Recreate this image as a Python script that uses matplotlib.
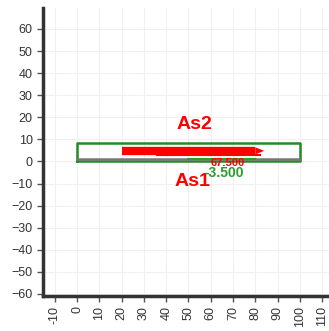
import matplotlib
matplotlib.use("Agg")
import matplotlib.pyplot as plt

# Data
x_ticks = list(range(-10, 111, 10))
y_ticks = list(range(-60, 61, 10))
section_x = [0, 100]          # section rectangle x extent
section_y = [0, 8.5]          # section rectangle y extent
bar_as2_x = [20, 80]          # main reinforcement bar (thick red)
bar_as2_y = 4.8
bar_as2_tip = 84
thin_red_x = [36, 82]
thin_red_y = 2.8
green_line_x = [50, 80]
green_line_y = 1.2
gray_line_y = 1.0
labels = {"As2": (52.5, 16.5), "As1": (52, -9.0)}
val_red = ("67.500", 67.5, -0.9)
val_green = ("-3.500", 66.0, -5.4)

plt.rcParams['font.family'] = ['Liberation Sans', 'DejaVu Sans']
fig = plt.figure(figsize=(3.29, 3.31), dpi=100)
ax = fig.add_axes([0.131, 0.106, 0.869, 0.870])
ax.set_xlim(-15.3, 113.1)
ax.set_ylim(-60.9, 69.5)

ax.set_xticks(x_ticks)
ax.set_yticks(y_ticks)
ax.set_xticklabels([str(v) for v in x_ticks], rotation=90)
ax.tick_params(axis='both', labelsize=9, colors='#555555', length=4, width=1, labelcolor='#333333')
ax.grid(True, color='#f0f0f0', linewidth=0.8)
ax.set_axisbelow(True)
for s in ['top', 'right']:
    ax.spines[s].set_visible(False)
for s in ['left', 'bottom']:
    ax.spines[s].set_linewidth(2.5)
    ax.spines[s].set_color('#333333')

# section rectangle
rx = [section_x[0], section_x[1], section_x[1], section_x[0], section_x[0]]
ry = [section_y[0], section_y[0], section_y[1], section_y[1], section_y[0]]
ax.plot(rx, ry, color='#228B22', linewidth=1.8, zorder=3)
ax.plot(section_x, [gray_line_y, gray_line_y], color='#777777', linewidth=1.8, zorder=3)

# green line
ax.plot(green_line_x, [green_line_y, green_line_y], color='#2a9d2a', linewidth=1.5, zorder=4)
# thin red line
ax.plot(thin_red_x, [thin_red_y, thin_red_y], color='red', linewidth=1.5, zorder=4)
# thick red bar with arrow tip
ax.plot(bar_as2_x, [bar_as2_y, bar_as2_y], color='red', linewidth=6, solid_capstyle='butt', zorder=5)
ax.fill([bar_as2_x[1], bar_as2_tip, bar_as2_x[1]],
        [bar_as2_y + 1.6, bar_as2_y, bar_as2_y - 1.6], color='red', zorder=5, linewidth=0)

for t, (x, y) in labels.items():
    ax.text(x, y, t, color='red', fontsize=14, fontweight='bold', ha='center', va='center', zorder=6)
ax.text(val_red[1], val_red[2], val_red[0], color='red', fontsize=8, fontweight='bold',
        ha='center', va='center', zorder=6)
ax.text(val_green[1], val_green[2], val_green[0], color='#2a9d2a', fontsize=10, fontweight='bold',
        ha='center', va='center', zorder=6)

fig.savefig('out.png', dpi=100)
